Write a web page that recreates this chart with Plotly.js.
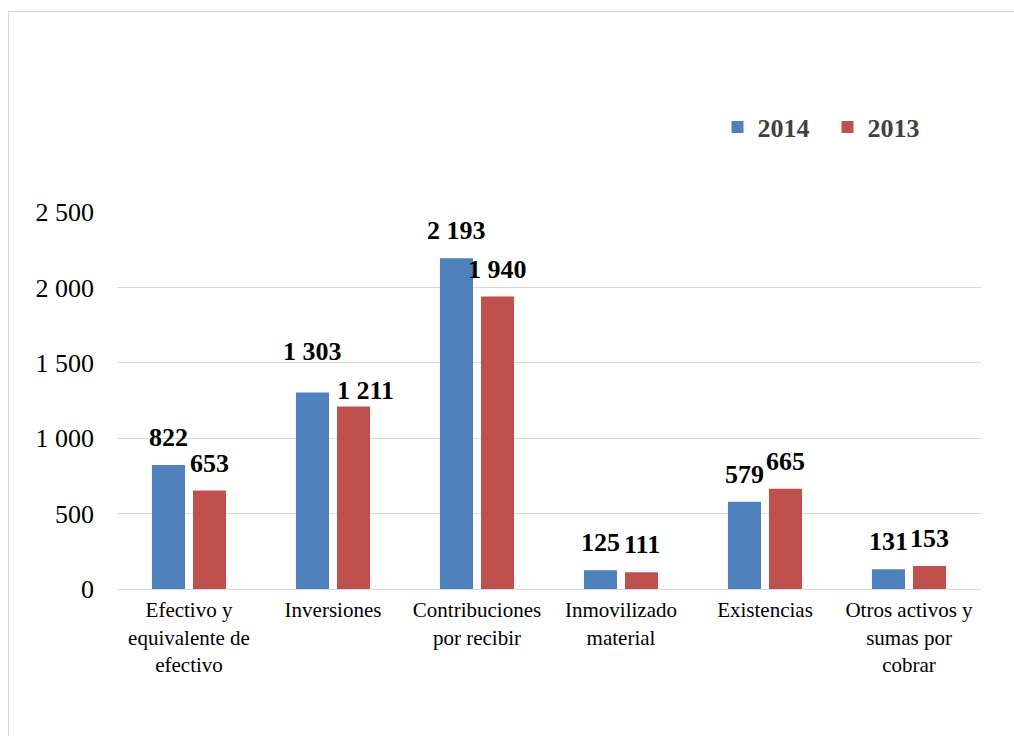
<!DOCTYPE html>
<html><head><meta charset="utf-8">
<script src="https://cdn.plot.ly/plotly-3.0.1.min.js"></script>
<style>
html,body{margin:0;padding:0;background:#fff;}
#frame{position:absolute;left:8px;top:11px;width:1020px;height:740px;border:1px solid #d9d9d9;box-sizing:border-box;}
#chart{position:absolute;left:0;top:0;width:1014px;height:736px;}
</style></head>
<body><div id="frame"></div><div id="chart"></div>
<script>
const categories = ["Efectivo y<br>equivalente de<br>efectivo","Inversiones","Contribuciones<br>por recibir","Inmovilizado<br>material","Existencias","Otros activos y<br>sumas por<br>cobrar"];
const values2014 = [822, 1303, 2193, 125, 579, 131];
const values2013 = [653, 1211, 1940, 111, 665, 153];
const yTicks = [0, 500, 1000, 1500, 2000, 2500];

const font = "'Liberation Serif', 'Times New Roman', serif";
const fmt = v => v.toLocaleString('en-US').replace(/,/g, ' ');

const traces = [
  {type:'bar', name:'2014', x:categories, y:values2014, marker:{color:'#4F81BD'}, hoverinfo:'skip'},
  {type:'bar', name:'2013', x:categories, y:values2013, marker:{color:'#C0504D'}, hoverinfo:'skip'}
];

// label placement with simple collision avoidance between the two labels of a group
const plotH = 736 - 212 - 147, yMax = 2500, pxPerUnit = plotH / yMax;
const baseShift = 11, minSep = 39;
const annotations = [];
categories.forEach((c,i)=>{
  const a = values2014[i], b = values2013[i];
  const t1 = fmt(a), t2 = fmt(b);
  let s1 = baseShift, s2 = baseShift, x2 = 20.5;
  const dy = (a - b) * pxPerUnit;
  if (t1.length > 3 && t2.length > 3 && Math.abs(dy) < minSep) {
    const extra = minSep - Math.abs(dy);
    const up = extra * 0.55, down = extra - up;
    if (dy >= 0) { s1 += up; s2 -= down; } else { s2 += up; s1 -= down; }
    if (Math.abs(dy) < 25) x2 += 12;
  }
  annotations.push({x:c, y:a, xref:'x', yref:'y', text:'<b>'+t1+'</b>', showarrow:false, xshift:-20.5, yshift:s1, yanchor:'bottom', font:{family:font,size:26,color:'#000'}});
  annotations.push({x:c, y:b, xref:'x', yref:'y', text:'<b>'+t2+'</b>', showarrow:false, xshift:x2, yshift:s2, yanchor:'bottom', font:{family:font,size:26,color:'#000'}});
});

const layout = {
  width:1014, height:736,
  margin:{l:117, r:33, t:212, b:147},
  paper_bgcolor:'rgba(0,0,0,0)', plot_bgcolor:'rgba(0,0,0,0)',
  separators:', ',
  barmode:'group', bargap:0.43, bargroupgap:0.195,
  showlegend:true,
  legend:{orientation:'h', x:0.695, y:1.225, xanchor:'left', yanchor:'middle', font:{family:font,size:26,color:'#404040', weight:'bold'}, itemwidth:30, entrywidth:65, entrywidthmode:'pixels', traceorder:'normal'},
  xaxis:{tickfont:{family:font,size:21,color:'#000'}, showline:true, linecolor:'#d9d9d9', linewidth:1, ticks:'', showgrid:false, fixedrange:true, ticklabelstandoff:2},
  yaxis:{range:[0,2500], tickvals:yTicks, ticktext:yTicks.map(fmt), tickfont:{family:font,size:26,color:'#000'}, showgrid:true, gridcolor:'#d9d9d9', gridwidth:1, zeroline:false, ticks:'', ticklabelstandoff:22, fixedrange:true},
  annotations:annotations,
  font:{family:font}
};
Plotly.newPlot('chart', traces, layout, {displayModeBar:false, staticPlot:true});
</script></body></html>
